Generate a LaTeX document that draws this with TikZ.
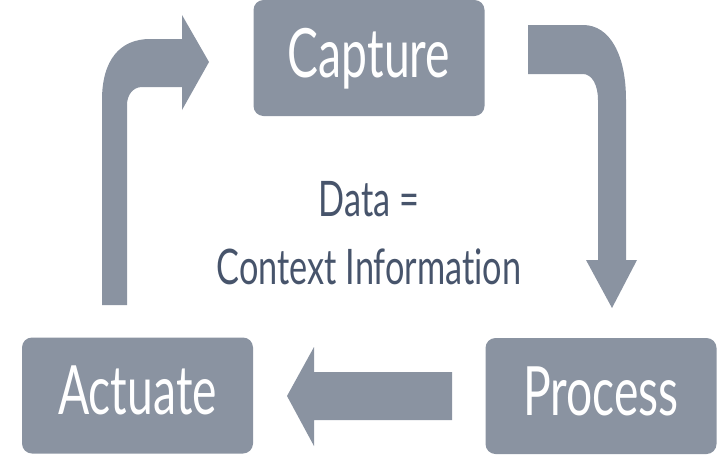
\documentclass[tikz,border=0pt]{standalone}
\usepackage{fontspec}
\setmainfont{Lato}[Ligatures=CommonOff]
\usepackage{graphicx}
\definecolor{boxgray}{HTML}{8A93A1}
\definecolor{textslate}{HTML}{47546B}
\newcommand{\squash}[2][0.68]{\scalebox{#1}[1]{#2}}
\tikzstyle{stagebox} = [fill=boxgray, rounded corners=10pt,
  minimum width=231pt, minimum height=116pt, inner sep=0pt,
  text=white, font=\fontsize{68}{68}\selectfont,
  text height=38pt, text depth=0pt]
\tikzstyle{blockarrow} = [fill=boxgray]

\begin{document}
\begin{tikzpicture}[x=1pt,y=-1pt]
  \useasboundingbox (0,0) rectangle (718,461);

  \node[stagebox] (capture) at (369,58) {\squash{Capture}};
  \node[stagebox] (actuate) at (137.5,395.5) {\squash{Actuate}};
  \node[stagebox] (process) at (601,396) {\squash{Process}};

  \node[text=textslate, align=center, font=\fontsize{49}{68}\selectfont]
    (info) at (369,233) {\squash[0.7]{Data =}\\\squash[0.7]{Context Information}};

  % capture -> process
  \fill[blockarrow] (528,25) -- (583,25) .. controls (610,25) and (626,55) .. (626,100)
    -- (626,260) -- (637,260) -- (612,308) -- (586,260) -- (598,260) -- (598,100)
    .. controls (598,85) and (592,74) .. (583,74) -- (528,74) -- cycle;

  % process -> actuate
  \fill[blockarrow] (452,372) -- (314,372) -- (314,347) -- (287,396)
    -- (314,446) -- (314,420) -- (452,420) -- cycle;

  % actuate -> capture
  \fill[blockarrow] (102,305) -- (102,100) .. controls (102,60) and (120,39) .. (150,39)
    -- (182,39) -- (182,15) -- (209,62) -- (182,110) -- (182,87) -- (142,87)
    .. controls (133,87) and (127,95) .. (127,105) -- (127,305) -- cycle;
\end{tikzpicture}
\end{document}
